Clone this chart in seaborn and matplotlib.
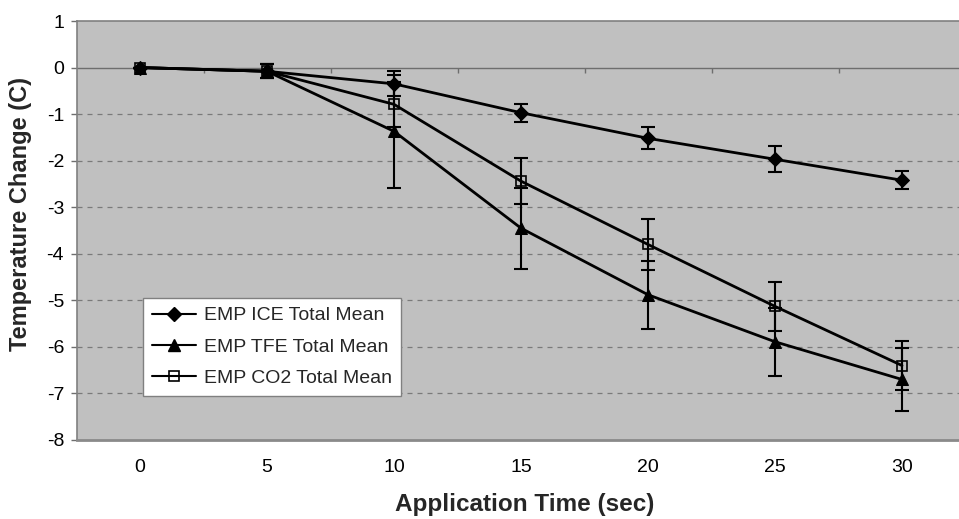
import matplotlib
matplotlib.use("Agg")
import matplotlib.pyplot as plt
import seaborn as sns
import pandas as pd
import numpy as np

# ---- data ----
time_sec = [0, 5, 10, 15, 20, 25, 30]
ice_mean = [0, -0.08, -0.35, -0.97, -1.52, -1.97, -2.42]
ice_err = [0, 0.15, 0.27, 0.19, 0.24, 0.28, 0.19]
tfe_mean = [0, -0.08, -1.37, -3.45, -4.88, -5.89, -6.70]
tfe_err = [0, 0.15, 1.22, 0.87, 0.73, 0.73, 0.68]
co2_mean = [0, -0.08, -0.79, -2.44, -3.80, -5.13, -6.40]
co2_err = [0, 0.15, 0.48, 0.49, 0.55, 0.52, 0.52]
series_names = ["EMP ICE Total Mean", "EMP TFE Total Mean", "EMP CO2 Total Mean"]
y_ticks = [1, 0, -1, -2, -3, -4, -5, -6, -7, -8]

sns.set_style("white")
plt.rcParams["font.family"] = ["Liberation Sans", "DejaVu Sans"]

fig = plt.figure(figsize=(9.59, 5.19), dpi=100)
ax = fig.add_axes([76.5 / 959, 1 - 440 / 519, 889 / 959, 419 / 519])
ax.set_facecolor("#c0c0c0")

df = pd.concat([
    pd.DataFrame({"time": time_sec, "value": ice_mean, "err": ice_err, "series": series_names[0]}),
    pd.DataFrame({"time": time_sec, "value": tfe_mean, "err": tfe_err, "series": series_names[1]}),
    pd.DataFrame({"time": time_sec, "value": co2_mean, "err": co2_err, "series": series_names[2]}),
])

styles = {
    series_names[0]: dict(marker="D", ms=6.8, mfc="black", mec="black"),
    series_names[1]: dict(marker="^", ms=9, mfc="black", mec="black"),
    series_names[2]: dict(marker="s", ms=6.8, mfc="none", mec="black", mew=1.2),
}

# grid lines
for v in range(-7, 0):
    ax.axhline(v, color="#7a7a7a", lw=0.9, ls=(0, (4, 4)), zorder=1)
ax.axhline(0, color="#6e6e6e", lw=1.0, zorder=1)
# category tick marks on zero axis
ax.vlines([2.5, 7.5, 12.5, 17.5, 22.5, 27.5], -0.11, 0, color="#6e6e6e", lw=1.0, zorder=1)

handles = []
for name in series_names:
    sub = df[df["series"] == name]
    ax.errorbar(sub["time"], sub["value"], yerr=sub["err"], fmt="none",
                ecolor="black", elinewidth=1.5, capsize=5, capthick=1.5, zorder=2)
    sns.lineplot(data=sub, x="time", y="value", ax=ax, color="black", lw=2,
                 estimator=None, sort=False, legend=False, zorder=3, **styles[name])
    h, = ax.plot([], [], color="black", lw=1.5, **styles[name])
    handles.append(h)

ax.set_xlim(-2.5, 32.5)
ax.set_ylim(-8, 1)
ax.set_xticks(time_sec)
ax.set_xticklabels([str(t) for t in time_sec])
ax.set_yticks(y_ticks)
ax.set_yticklabels([str(v) for v in y_ticks])
ax.tick_params(axis="x", length=0, pad=14, labelsize=14, colors="black")
ax.tick_params(axis="y", length=4.5, width=1, color="#6e6e6e", pad=4.5, labelsize=14,
               labelcolor="black", left=True, direction="out")

for s in ax.spines.values():
    s.set_color("#808080")
    s.set_linewidth(1.2)
ax.spines["bottom"].set_linewidth(2)
ax.spines["bottom"].set_color("#8a8a8a")

ax.set_xlabel("Application Time (sec)", fontsize=17.5, fontweight="bold")
ax.set_ylabel("Temperature Change (C)", fontsize=17, fontweight="bold")
ax.xaxis.set_label_coords((525 - 76.5) / 889, (440 - 505) / 419)
ax.yaxis.set_label_coords((21 - 76.5) / 889, (440 - 214) / 419)
ax.xaxis.label.set_va("center")
ax.yaxis.label.set_va("center")

leg = ax.legend(handles, series_names, loc="upper left",
                bbox_to_anchor=((143 - 76.5) / 889, (440 - 298) / 419),
                borderaxespad=0, frameon=True, fancybox=False, fontsize=14,
                handlelength=2.3, handletextpad=0.4, labelspacing=0.7,
                borderpad=0.45, framealpha=1)
leg.get_frame().set_edgecolor("#808080")
leg.get_frame().set_linewidth(1.0)
leg.get_frame().set_facecolor("white")

fig.savefig("out.png", dpi=100, facecolor="white")
